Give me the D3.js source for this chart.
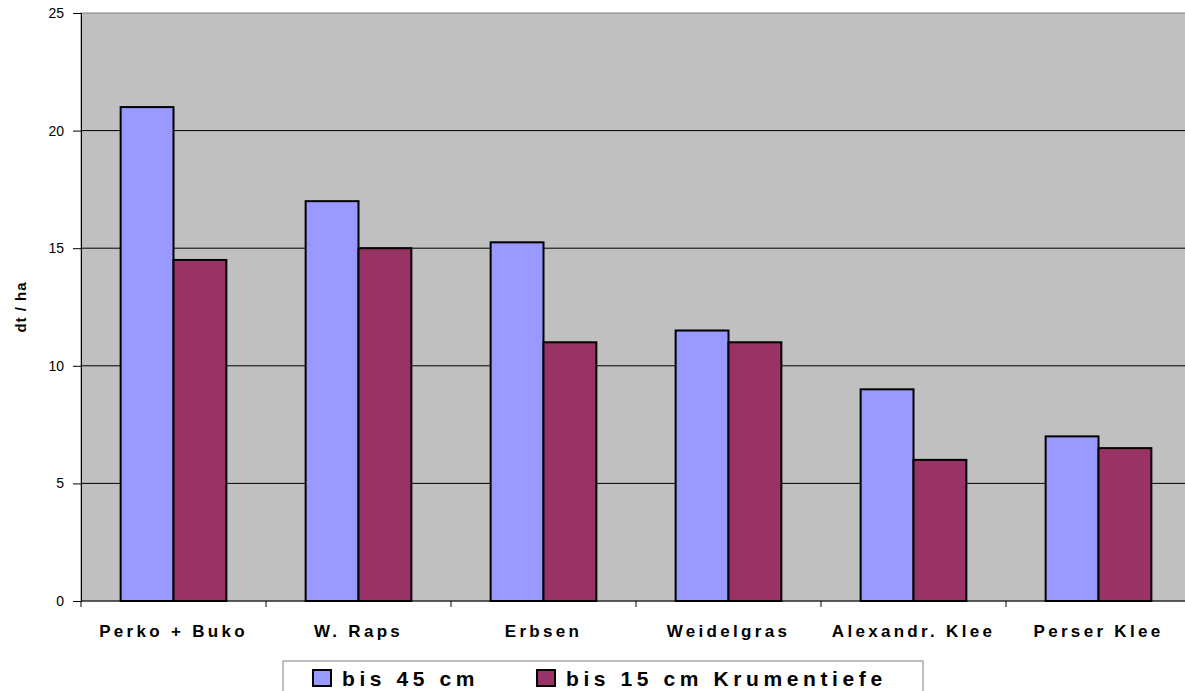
<!DOCTYPE html>
<html>
<head>
<meta charset="utf-8">
<script src="https://cdn.jsdelivr.net/npm/d3@7"></script>
<style>
  body { margin: 0; background: #fff; }
  text { font-family: Arial, "Liberation Sans", sans-serif; }
</style>
</head>
<body>
<div id="chart"></div>
<script>
// data
var categories = ["Perko + Buko", "W. Raps", "Erbsen", "Weidelgras", "Alexandr. Klee", "Perser Klee"];
var deep = [21, 17, 15.25, 11.5, 9, 7];       // bis 45 cm
var shallow = [14.5, 15, 11, 11, 6, 6.5];    // bis 15 cm Krumentiefe
var seriesNames = ["bis 45 cm", "bis 15 cm Krumentiefe"];
var seriesColors = ["#9999FF", "#993366"];
var yTicks = [0, 5, 10, 15, 20, 25];

var W = 1185, H = 691;
var margin = { top: 13, left: 81 },
    plotW = 1110, plotH = 588;

var svg = d3.select("#chart").append("svg")
    .attr("width", W).attr("height", H);

var g = svg.append("g")
    .attr("transform", "translate(" + margin.left + "," + margin.top + ")");

var x = d3.scaleBand().domain(categories).range([0, plotW]);
var xs = d3.scaleBand().domain([0, 1]).range([0, x.bandwidth()]).paddingOuter(0.75).paddingInner(0);
var y = d3.scaleLinear().domain([0, 25]).range([plotH, 0]);

// plot background
g.append("rect")
    .attr("x", 0).attr("y", 0)
    .attr("width", plotW).attr("height", plotH)
    .attr("fill", "#C0C0C0")
    .attr("stroke", "#808080");

// gridlines
g.selectAll("line.grid")
    .data(yTicks.filter(function (d) { return d > 0 && d < 25; }))
    .enter().append("line")
    .attr("class", "grid")
    .attr("x1", 0).attr("x2", plotW)
    .attr("y1", function (d) { return y(d); })
    .attr("y2", function (d) { return y(d); })
    .attr("stroke", "#000").attr("stroke-width", 1);

// bars
var rows = categories.map(function (c, i) { return { cat: c, vals: [deep[i], shallow[i]] }; });
var grp = g.selectAll("g.cat").data(rows).enter().append("g")
    .attr("transform", function (d) { return "translate(" + x(d.cat) + ",0)"; });
grp.selectAll("rect")
    .data(function (d) { return d.vals.map(function (v, k) { return { v: v, k: k }; }); })
    .enter().append("rect")
    .attr("x", function (d) { return xs(d.k); })
    .attr("width", xs.bandwidth())
    .attr("y", function (d) { return y(d.v); })
    .attr("height", function (d) { return plotH - y(d.v); })
    .attr("fill", function (d) { return seriesColors[d.k]; })
    .attr("stroke", "#000").attr("stroke-width", 2);

// y axis
var yAxis = g.append("g")
    .call(d3.axisLeft(y).tickValues(yTicks).tickSize(8).tickPadding(9));
yAxis.select(".domain").attr("stroke", "#000");
yAxis.selectAll("text").attr("font-size", 14).attr("fill", "#000");

// x axis
var xAxis = g.append("g")
    .attr("transform", "translate(0," + plotH + ")");
xAxis.append("line").attr("x1", 0).attr("x2", plotW).attr("stroke", "#000");
xAxis.selectAll("line.tick")
    .data(d3.range(categories.length + 1))
    .enter().append("line")
    .attr("x1", function (i) { return i * x.step(); })
    .attr("x2", function (i) { return i * x.step(); })
    .attr("y1", 0).attr("y2", 6)
    .attr("stroke", "#000");
xAxis.selectAll("text")
    .data(categories)
    .enter().append("text")
    .attr("x", function (d) { return x(d) + x.bandwidth() / 2; })
    .attr("y", 36)
    .attr("text-anchor", "middle")
    .attr("font-size", 17).attr("font-weight", "bold")
    .attr("letter-spacing", 3.3)
    .text(function (d) { return d; });

// y label
svg.append("text")
    .attr("transform", "translate(26," + (margin.top + plotH / 2) + ") rotate(-90)")
    .attr("text-anchor", "middle")
    .attr("font-size", 15).attr("font-weight", "bold")
    .attr("letter-spacing", 1)
    .text("dt / ha");

// legend
var leg = svg.append("g").attr("transform", "translate(283,661)");
leg.append("rect")
    .attr("x", 0).attr("y", 0).attr("width", 640).attr("height", 40)
    .attr("fill", "#fff").attr("stroke", "#808080");
var legX = [30, 254];
seriesNames.forEach(function (name, k) {
    leg.append("rect")
        .attr("x", legX[k]).attr("y", 9)
        .attr("width", 18).attr("height", 16)
        .attr("fill", seriesColors[k]).attr("stroke", "#000").attr("stroke-width", 2);
    leg.append("text")
        .attr("x", legX[k] + 29).attr("y", 25)
        .attr("font-size", 21).attr("font-weight", "bold")
        .attr("letter-spacing", 4.6)
        .text(name);
});
</script>
</body>
</html>
